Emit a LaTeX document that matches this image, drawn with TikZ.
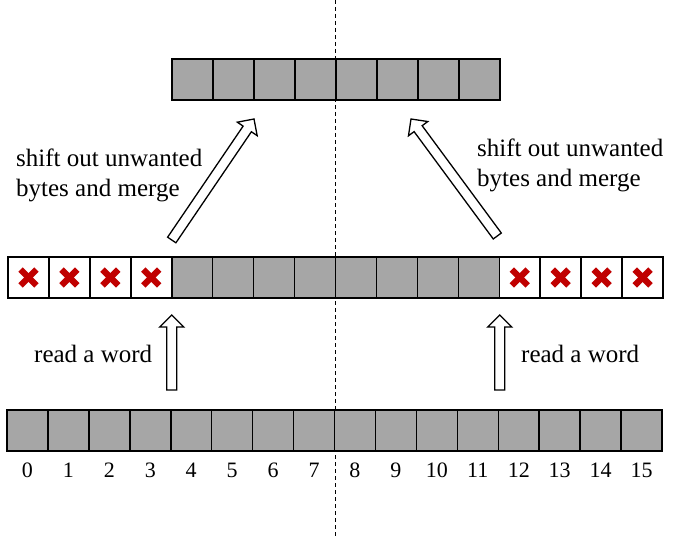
\documentclass[tikz,border=0pt]{standalone}
\usepackage{fontspec}
\setmainfont{Liberation Serif}
\usetikzlibrary{calc}
\definecolor{cellgray}{RGB}{166,166,166}
\definecolor{xred}{RGB}{192,0,0}
\tikzset{
  cellbase/.style={draw, line width=1.5bp, minimum height=41bp, inner sep=0pt, outer sep=0pt, anchor=center},
  full/.style={cellbase, minimum width=40.94bp, fill=cellgray},
  emptycell/.style={cellbase, minimum width=40.94bp, fill=white},
  topcell/.style={cellbase, minimum width=41bp, fill=cellgray},
  xmark/.style={draw=xred, line width=6.3bp},
  lbl/.style={font=\fontsize{25bp}{30bp}\selectfont, inner sep=0pt, anchor=base west, align=left},
  num/.style={font=\fontsize{22bp}{26bp}\selectfont, inner sep=0pt, anchor=base},
  blockarrow/.style={draw, fill=white, line width=1.3bp, line join=miter},
  divider/.style={dash pattern=on 4bp off 3bp, line width=0.9bp}
}
\newcommand{\blockarr}[2]{%
  \draw[blockarrow] let \p1=(#1), \p2=(#2),
    \n1={atan2(\y2-\y1,\x2-\x1)}, \n2={veclen(\x2-\x1,\y2-\y1)} in
    ($(#1)+({\n1+90}:5bp)$)
    -- ($(#1)+({\n1}:{\n2-12bp})+({\n1+90}:5bp)$)
    -- ($(#1)+({\n1}:{\n2-12bp})+({\n1+90}:12bp)$)
    -- (#2)
    -- ($(#1)+({\n1}:{\n2-12bp})+({\n1-90}:12bp)$)
    -- ($(#1)+({\n1}:{\n2-12bp})+({\n1-90}:5bp)$)
    -- ($(#1)+({\n1-90}:5bp)$) -- cycle;%
}
\begin{document}
\begin{tikzpicture}[x=1bp, y=-1bp]
\useasboundingbox (0,0) rectangle (685,538);
% divider
\coordinate (dtop) at (335,0);
\coordinate (dbot) at (335,538);
\draw[divider] (dtop) -- (dbot);
% bottom row
\foreach \i in {0,...,15}
  \node[full] (b\i) at ({7+40.94*(\i+0.5)},430.5) {};
\foreach \i in {0,...,15}
  \node[num] (n\i) at ($(b\i.south)+(0,26)$) {\i};
% middle row
\foreach \i in {4,...,11}
  \node[full] (m\i) at ({8+40.94*(\i+0.5)},277.5) {};
\foreach \i in {0,1,2,3,12,13,14,15}{
  \node[emptycell] (m\i) at ({8+40.94*(\i+0.5)},277.5) {};
  \draw[xmark] ($(m\i)+(-7.9,-7.9)$) -- ($(m\i)+(7.9,7.9)$);
  \draw[xmark] ($(m\i)+(-7.9,7.9)$) -- ($(m\i)+(7.9,-7.9)$);
}
% top row
\foreach \i in {0,...,7}
  \node[topcell] (t\i) at ({172+41*(\i+0.5)},79.5) {};
% arrow end points
\coordinate (lvtail) at ($(m3.south east)+(0,92)$);
\coordinate (lvtip)  at ($(m3.south east)+(0,17)$);
\coordinate (rvtail) at ($(m11.south east)+(0.5,92)$);
\coordinate (rvtip)  at ($(m11.south east)+(0.5,17)$);
\coordinate (ldtail) at ($(m3.north east)+(0,-17)$);
\coordinate (ldtip)  at ($(t1.south east)+(0,19)$);
\coordinate (rdtail) at ($(m11.north east)+(-2,-21)$);
\coordinate (rdtip)  at ($(t5.south east)+(-7,19)$);
\blockarr{lvtail}{lvtip}
\blockarr{rvtail}{rvtip}
\blockarr{ldtail}{ldtip}
\blockarr{rdtail}{rdtip}
% labels (base anchor = baseline of the last line)
\node[lbl] (lshift) at (16,197) {shift out unwanted\\bytes and merge};
\node[lbl] (rshift) at (477,187) {shift out unwanted\\bytes and merge};
\node[lbl] (lread) at (34,362) {read a word};
\node[lbl] (rread) at (521,362) {read a word};
\end{tikzpicture}
\end{document}
